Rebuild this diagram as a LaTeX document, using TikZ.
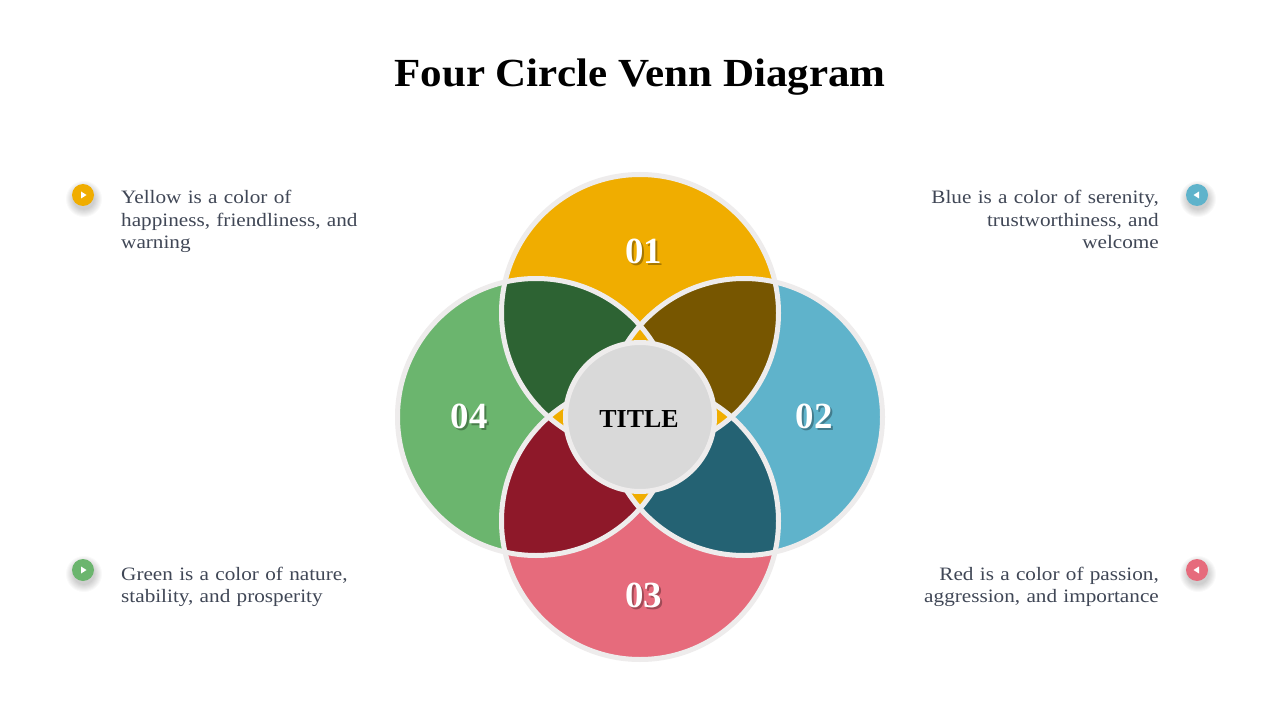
\documentclass[tikz,border=0pt]{standalone}
\usepackage{fontspec}
\setmainfont{Liberation Serif}
\newfontfamily\bodyfont[FakeStretch=1.12, WordSpace=0.85]{Liberation Serif}
\newfontfamily\headfont[FakeStretch=1.08]{Liberation Serif}
\definecolor{yelc}{HTML}{F0AD00}
\definecolor{bluc}{HTML}{5FB3CB}
\definecolor{pnkc}{HTML}{E66B7C}
\definecolor{grnc}{HTML}{6BB56E}
\definecolor{dgrnc}{HTML}{2D6333}
\definecolor{brnc}{HTML}{775600}
\definecolor{tealc}{HTML}{246273}
\definecolor{dredc}{HTML}{8E1829}
\definecolor{ringc}{HTML}{EEECEC}
\definecolor{titc}{HTML}{D9D9D9}
\definecolor{txtc}{HTML}{404756}
\begin{document}
\begin{tikzpicture}[x=1bp,y=-1bp,
  ring/.style={draw=ringc, line width=5bp},
  body/.style={text=txtc, font=\bodyfont\fontsize{19}{22.5}\selectfont, inner sep=0pt, text width=300bp},
  num/.style={text=white, font=\bfseries\fontsize{37}{37}\selectfont, inner sep=0pt},
  numshadow/.style={text=black, opacity=0.3, font=\bfseries\fontsize{37}{37}\selectfont, inner sep=0pt},
  bullet/.style={circle, minimum size=22bp, inner sep=0pt},
  shadowdisc/.style={fill=black, opacity=0.025}]
\useasboundingbox (0,0) rectangle (1280,720);
\fill[white] (0,0) rectangle (1280,720);
\def\rr{138.5bp}
\coordinate (cY) at (640,313);
\coordinate (cB) at (744,417);
\coordinate (cR) at (640,521);
\coordinate (cG) at (536,417);
\coordinate (cT) at (640,417);
% base circles
\fill[yelc] (cY) circle[radius=\rr];
\fill[bluc] (cB) circle[radius=\rr];
\fill[pnkc] (cR) circle[radius=\rr];
\fill[grnc] (cG) circle[radius=\rr];
% lenses
\begin{scope}\clip (cY) circle[radius=\rr]; \fill[dgrnc] (cG) circle[radius=\rr];\end{scope}
\begin{scope}\clip (cY) circle[radius=\rr]; \fill[brnc] (cB) circle[radius=\rr];\end{scope}
\begin{scope}\clip (cB) circle[radius=\rr]; \fill[tealc] (cR) circle[radius=\rr];\end{scope}
\begin{scope}\clip (cR) circle[radius=\rr]; \fill[dredc] (cG) circle[radius=\rr];\end{scope}
% triple overlaps
\begin{scope}\clip (cY) circle[radius=\rr]; \clip (cG) circle[radius=\rr]; \fill[yelc] (cB) circle[radius=\rr];\end{scope}
\begin{scope}\clip (cY) circle[radius=\rr]; \clip (cB) circle[radius=\rr]; \fill[yelc] (cR) circle[radius=\rr];\end{scope}
\begin{scope}\clip (cB) circle[radius=\rr]; \clip (cR) circle[radius=\rr]; \fill[yelc] (cG) circle[radius=\rr];\end{scope}
\begin{scope}\clip (cR) circle[radius=\rr]; \clip (cG) circle[radius=\rr]; \fill[yelc] (cY) circle[radius=\rr];\end{scope}
% rings
\draw[ring] (cY) circle[radius=\rr];
\draw[ring] (cB) circle[radius=\rr];
\draw[ring] (cR) circle[radius=\rr];
\draw[ring] (cG) circle[radius=\rr];
% centre
\node[circle, fill=titc, draw=ringc, line width=5bp, minimum size=149bp, inner sep=0pt] (tc) at (cT) {};
\node[anchor=base, font=\bfseries\fontsize{26}{26}\selectfont, inner sep=0pt] (ttl) at (639,427) {TITLE};
% numbers
\node[numshadow, anchor=base] at (645.5,265) {01};
\node[num, anchor=base] (n1) at (643.5,263) {01};
\node[numshadow, anchor=base] at (816,430) {02};
\node[num, anchor=base] (n2) at (814,428) {02};
\node[numshadow, anchor=base] at (645.5,609) {03};
\node[num, anchor=base] (n3) at (643.5,607) {03};
\node[numshadow, anchor=base] at (471,430) {04};
\node[num, anchor=base] (n4) at (469,428) {04};
% heading
\node[anchor=base, font=\headfont\bfseries\fontsize{40}{40}\selectfont, inner sep=0pt] (head) at (640,87) {Four Circle Venn Diagram};
% bullets with soft shadows
\foreach \bx/\by in {83/195, 83/570, 1197/195, 1197/570}{
  \foreach \s in {11,12,...,18}{\fill[shadowdisc] (\bx+1,\by+4) circle[radius=\s bp];}
}
\node[bullet, fill=yelc] (b1) at (83,195) {};
\node[bullet, fill=grnc] (b4) at (83,570) {};
\node[bullet, fill=bluc] (b2) at (1197,195) {};
\node[bullet, fill=pnkc] (b3) at (1197,570) {};
\fill[white] (81,191.5) -- (81,198.5) -- (86.5,195) -- cycle;
\fill[white] (81,566.5) -- (81,573.5) -- (86.5,570) -- cycle;
\fill[white] (1199,191.5) -- (1199,198.5) -- (1193.5,195) -- cycle;
\fill[white] (1199,566.5) -- (1199,573.5) -- (1193.5,570) -- cycle;
% texts
\node[body, anchor=base west, align=left] (t1) at (121,204) {Yellow is a color of\\happiness, friendliness, and\\warning};
\node[body, anchor=base east, align=right] (t2) at (1159,204) {Blue is a color of serenity,\\trustworthiness, and\\welcome};
\node[body, anchor=base west, align=left] (t4) at (121,580.5) {Green is a color of nature,\\stability, and prosperity};
\node[body, anchor=base east, align=right] (t3) at (1159,580.5) {Red is a color of passion,\\aggression, and importance};
\end{tikzpicture}
\end{document}
